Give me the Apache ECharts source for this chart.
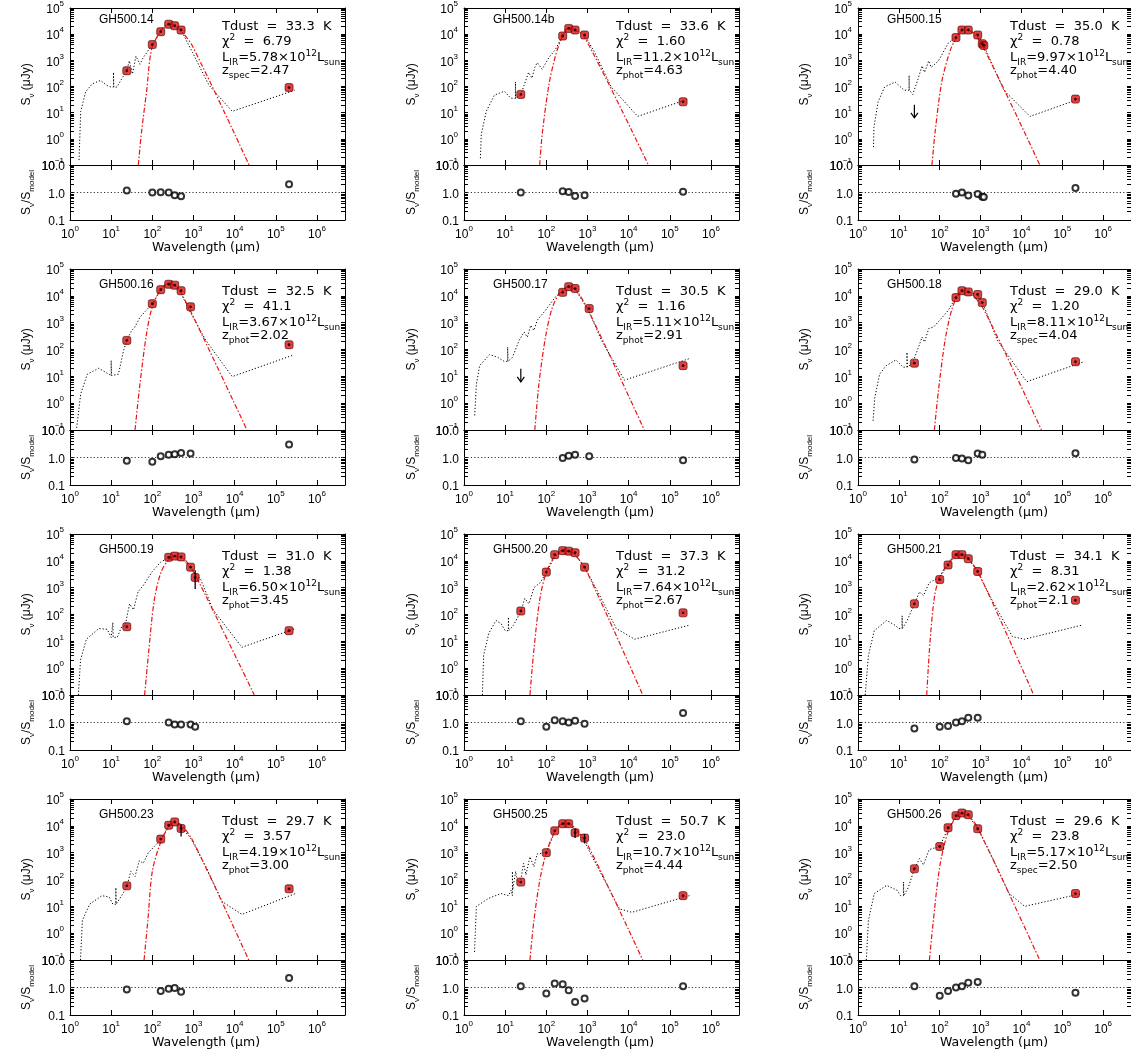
<!DOCTYPE html>
<html><head><meta charset="utf-8">
<script src="https://cdn.jsdelivr.net/npm/echarts/dist/echarts.min.js"></script>
<style>html,body{margin:0;padding:0;background:#fff}#c{width:1131px;height:1057px}</style>
</head><body><div id="c"></div>
<script>
// ---------------- DATA ----------------
const names  = ['GH500.14','GH500.14b','GH500.15','GH500.16','GH500.17','GH500.18','GH500.19','GH500.20','GH500.21','GH500.23','GH500.25','GH500.26'];
const tdust  = ['33.3','33.6','35.0','32.5','30.5','29.0','31.0','37.3','34.1','29.7','50.7','29.6'];
const chi2   = ['6.79','1.60','0.78','41.1','1.16','1.20','1.38','31.2','8.31','3.57','23.0','23.8'];
const lir    = ['5.78','11.2','9.97','3.67','5.11','8.11','6.50','7.64','2.62','4.19','10.7','5.17'];
const ztype  = ['spec','phot','phot','phot','phot','spec','phot','phot','phot','phot','phot','spec'];
const zval   = ['2.47','4.63','4.40','2.02','2.91','4.04','3.45','2.67','2.1','3.00','4.44','2.50'];

const xTicks = [1,10,100,1e3,1e4,1e5,1e6];
const yMajor = [0.1,1,10,100,1e3,1e4,1e5];
const rMajor = [0.1,1,10];

// GH500.14
const wave14 = [24,100,160,250,350,500,2.1e5];
const flux14 = [400,4000,12400,24000,21000,14400,91];
const ratio14 = [1.17,1.0,1.02,0.99,0.79,0.73,1.98];
const sed14 = [[1.66,0.155],[1.82,11.2],[2.4,63],[3.47,126],[5.5,170],[7.9,110],[10,95],[11.4,95],[11.4,347],[11.6,95],[13.8,95],[18,195],[24,400],[27.5,955],[33,302],[40,1445],[50,708],[60,1260],[100,4000],[160,12600],[250,25000],[350,22400],[500,14400],[955,1950],[2399,110],[8710,11.2],[288000,72]];
const bb14 = [[45.7,0.1],[55,2],[72.4,63],[95.5,2570],[151,11500],[240,24000],[330,22400],[479,14400],[955,3400],[22387,0.1]];
// GH500.14b
const wave14b = [24,250,350,500,850,2.1e5];
const flux14b = [50,8500,16600,14400,9300,26];
const ratio14b = [1.0,1.1,1.05,0.75,0.8,1.07];
const sed14b = [[2.5,0.18],[2.63,1.5],[3.47,11.2],[5.5,47],[9.5,66],[13.8,35.5],[17.8,35],[17.8,148],[18,37],[20,40],[24,50],[28.8,110],[37,347],[44.7,209],[52.5,537],[60,813],[79.4,457],[115,1260],[166,2570],[251,9000],[347,17800],[501,15500],[851,9300],[1514,1950],[3802,95],[16596,7.2],[263000,32]];
const bb14b = [[69,0.1],[79.4,1.5],[115,110],[166,1445],[234,6900],[324,16600],[468,14400],[813,8700],[30200,0.1]];
// GH500.15
const wave15 = [250,350,500,850,1100,1200,2.1e5];
const flux15 = [7400,14400,14400,9300,4300,3700,33];
const ratio15 = [0.9,1.0,0.78,0.88,0.7,0.68,1.45];
const ul15 = [[24,20]];
const sed15 = [[2.4,0.48],[2.45,2.7],[3.1,26],[4.47,95],[8.1,148],[13.5,72],[17.8,72],[17.8,263],[18,72],[21.9,50],[29.5,195],[37,617],[42.7,347],[53.7,955],[61.7,537],[93,955],[162,4570],[251,7900],[372,15000],[537,14400],[851,9300],[1230,3400],[3715,72],[16218,7.2],[282000,35]];
const bb15 = [[64.6,0.1],[77.6,2],[112,148],[178,2240],[251,6900],[372,14400],[537,13500],[1047,4300],[28184,0.1]];
// GH500.16
const wave16 = [24,100,160,250,350,500,850,2.1e5];
const flux16 = [218,5100,17000,27000,25000,15500,3900,150];
const ratio16 = [0.76,0.70,1.12,1.25,1.3,1.47,1.4,3.0];
const sed16 = [[1.45,0.12],[1.82,2.2],[2.63,12],[5,20],[10,10.7],[10,39],[10.2,10.7],[15,12],[20,91],[24,220],[31.6,513],[38,690],[50,1600],[100,5100],[160,17000],[240,28800],[347,26000],[479,14000],[794,2880],[1995,219],[8710,9.8],[275000,63]];
const bb16 = [[38,0.1],[50,5.1],[72.4,390],[100,3900],[160,17000],[240,28800],[347,25000],[479,14000],[1000,1620],[19953,0.1]];
// GH500.17
const wave17 = [250,350,500,1100,2.1e5];
const flux17 = [13500,22000,18700,3350,25];
const ratio17 = [0.95,1.15,1.25,1.1,0.8];
const ul17 = [[24,19]];
const sed17 = [[1.82,0.35],[2.0,5.1],[2.4,25],[4.2,65],[6.6,51],[9.5,36],[11.5,36],[11.5,123],[11.7,36],[15,51],[21.9,219],[28.8,447],[34.7,290],[41.7,794],[50,513],[60,1230],[95.5,2880],[166,9100],[234,14000],[347,23000],[501,17800],[1047,2880],[2188,219],[7943,7.2],[288000,45]];
const bb17 = [[52.5,0.1],[66,5.1],[95.5,290],[138,3400],[219,14000],[347,21900],[501,18000],[1047,2880],[24000,0.1]];
// GH500.18
const wave18 = [24,250,350,500,850,1100,2.1e5];
const flux18 = [31,8600,15500,14000,11200,5600,35];
const ratio18 = [0.85,0.95,0.92,0.8,1.4,1.25,1.43];
const sed18 = [[2.34,0.22],[2.57,1.6],[3.4,12.3],[4.9,25],[8.5,41],[12.6,22],[15.8,22],[15.8,79],[16.2,22],[21.4,31],[28.2,91],[37,288],[42.7,190],[53.7,600],[70.8,690],[100,1230],[162,2880],[251,9100],[347,16600],[501,14000],[851,11000],[1230,3900],[2570,219],[13490,6.3],[339000,35]];
const bb18 = [[74,0.1],[93,2.9],[135,219],[195,2880],[282,10700],[407,14100],[589,12300],[1230,2880],[30903,0.1]];
// GH500.19
const wave19 = [24,250,350,500,850,1100,2.1e5];
const flux19 = [35,13500,15000,14000,5800,2400,25];
const ratio19 = [1.1,1.0,0.85,0.85,0.85,0.7,null];
const err19 = [[1100,900,4500]];
const sed19 = [[1.6,0.1],[1.8,2],[2.5,12],[5,30],[8,28],[10,14],[11,14],[11,50],[11.2,14],[14,14],[18,35],[22,40],[28,250],[35,150],[45,700],[60,1200],[100,4000],[160,9000],[250,13000],[350,14500],[500,12500],[850,5500],[1500,2000],[3000,150],[15000,6],[300000,30]];
const bb19 = [[65,0.1],[80,3],[110,300],[160,3500],[250,11000],[400,14500],[600,11500],[1100,3000],[30000,0.1]];
// GH500.20
const wave20 = [24,100,160,250,350,500,850,2.1e5];
const flux20 = [135,3800,17000,24000,23000,20000,5800,115];
const ratio20 = [1.1,0.7,1.2,1.1,1.0,1.15,0.9,2.2];
const sed20 = [[2.8,0.1],[3,3],[4,20],[6,60],[8,45],[10,25],[12,25],[12,80],[12.2,25],[16,40],[24,130],[30,400],[38,250],[50,1000],[70,1500],[100,3700],[160,14000],[250,24000],[350,23000],[500,17000],[850,6000],[2000,500],[5000,30],[14000,12],[300000,40]];
const bb20 = [[40,0.1],[50,5],[70,400],[100,3700],[160,15000],[250,24000],[350,23000],[500,17000],[1000,3500],[22000,0.1]];
// GH500.21
const wave21 = [24,100,160,250,350,500,850,2.1e5];
const flux21 = [250,2000,7000,17000,17000,12000,4000,340];
const ratio21 = [0.6,0.7,0.75,1.0,1.1,1.5,1.5,null];
const sed21 = [[1.5,0.1],[1.8,3],[2.5,25],[5,60],[8,40],[10,30],[12,30],[12,90],[12.2,30],[16,60],[24,250],[32,700],[40,500],[55,1500],[100,2500],[160,7000],[250,16000],[350,17000],[500,12500],[850,3700],[2000,300],[6000,15],[12000,12],[300000,40]];
const bb21 = [[48,0.1],[58,10],[75,500],[100,2500],[160,8000],[250,16000],[350,17000],[500,12500],[1000,2500],[20000,0.1]];
// GH500.23
const wave23 = [24,160,250,350,500,2.1e5];
const flux23 = [58,3200,10500,14000,8000,45];
const ratio23 = [0.85,0.75,0.9,0.95,0.7,2.2];
const err23 = [[500,4000,11000]];
const sed23 = [[1.8,0.1],[2,3],[3,12],[6,25],[9,22],[11,12],[13,12],[13,50],[13.2,12],[18,25],[24,55],[30,200],[38,130],[48,500],[60,400],[80,1000],[160,3000],[250,10000],[350,13000],[500,9000],[850,3500],[2000,300],[5000,15],[15000,5],[300000,30]];
const bb23 = [[63,0.1],[78,3],[100,200],[160,2500],[250,9000],[350,13000],[500,11000],[1000,2500],[22000,0.1]];
// GH500.25
const wave25 = [24,100,160,250,350,500,850,2.1e5];
const flux25 = [80,1000,6500,12000,12000,5500,3500,25];
const ratio25 = [1.1,0.6,1.4,1.3,0.8,0.3,0.4,1.1];
const err25 = [[500,3500,8000],[850,2200,5000]];
const sed25 = [[1.8,0.2],[2,10],[4,20],[8,30],[12,25],[14,40],[15,25],[15,200],[15.2,40],[18,200],[20,80],[24,100],[28,400],[32,150],[40,700],[50,300],[60,900],[100,1000],[160,6000],[250,12000],[350,12000],[500,7000],[850,2500],[2000,200],[6000,8],[12000,6],[300000,25]];
const bb25 = [[40,0.1],[50,3],[70,100],[100,1000],[160,6000],[250,12000],[350,12000],[500,8000],[1000,2000],[22000,0.1]];
// GH500.26
const wave26 = [24,100,160,250,350,500,850,2.1e5];
const flux26 = [250,1700,8500,24000,30000,26000,7800,30];
const ratio26 = [1.1,0.5,0.75,1.0,1.1,1.5,1.6,0.65];
const sed26 = [[1.6,0.1],[1.8,3],[2.5,30],[5,60],[9,40],[11,25],[13,25],[13,80],[13.2,25],[17,50],[24,250],[32,600],[40,350],[55,1300],[100,1700],[160,8000],[250,22000],[350,28000],[500,24000],[850,8000],[2000,600],[5000,30],[12000,10],[300000,30]];
const bb26 = [[56,0.1],[68,2],[100,300],[160,6000],[250,20000],[350,28000],[500,24000],[850,8500],[28000,0.1]];

const waves  = [wave14,wave14b,wave15,wave16,wave17,wave18,wave19,wave20,wave21,wave23,wave25,wave26];
const fluxes = [flux14,flux14b,flux15,flux16,flux17,flux18,flux19,flux20,flux21,flux23,flux25,flux26];
const ratios = [ratio14,ratio14b,ratio15,ratio16,ratio17,ratio18,ratio19,ratio20,ratio21,ratio23,ratio25,ratio26];
const seds   = [sed14,sed14b,sed15,sed16,sed17,sed18,sed19,sed20,sed21,sed23,sed25,sed26];
const bbs    = [bb14,bb14b,bb15,bb16,bb17,bb18,bb19,bb20,bb21,bb23,bb25,bb26];
const uls    = [[],[],ul15,[],ul17,[],[],[],[],[],[],[]];
const errs   = [[],[],[],[],[],[],err19,[],[],err23,err25,[]];

// ---------------- LAYOUT ----------------
const COL_LEFT = [70, 464, 858];
const ROW_TOP = [4, 269, 534, 799];
const YTITLE_X = [27, 412, 805];
const W = 275, HM = 161, HR = 55;
const XMIN = 1, XMAX = 4.8e6;
const F_NUM = '"Liberation Sans", Arial, Helvetica, sans-serif';
const F_TXT = '"DejaVu Sans", "Liberation Sans", sans-serif';

// tick positions (majors + 2..9 minors per decade) for log axes
function withMinors(majors) {
  const out = [];
  majors.forEach((m, k) => { out.push(m); if (k < majors.length - 1) for (let j = 2; j <= 9; j++) out.push(+(m * j).toPrecision(6)); });
  return out;
}
const yTickAll = withMinors(yMajor);
const rTickAll = withMinors(rMajor);

const tickRich = {
  b: {fontFamily: F_NUM, fontSize: 12, color: '#000', lineHeight: 16, verticalAlign: 'bottom'},
  e: {fontFamily: F_NUM, fontSize: 8, color: '#000', lineHeight: 10, verticalAlign: 'top'}
};
function expLabel(v) {
  const lg = Math.log10(v), e = Math.round(lg);
  if (Math.abs(lg - e) > 1e-6) return '';
  return '{b|10}{e|' + (e < 0 ? '\u2212' + (-e) : String(e)) + '}';
}
const txtRich = {
  n: {fontFamily: F_TXT, fontSize: 13, color: '#000', lineHeight: 18},
  p: {fontFamily: F_TXT, fontSize: 9, color: '#000', lineHeight: 11, verticalAlign: 'top'},
  s: {fontFamily: F_TXT, fontSize: 9, color: '#000', lineHeight: 11, verticalAlign: 'bottom'},
  a: {fontFamily: F_NUM, fontSize: 12, color: '#000', lineHeight: 18},
  as: {fontFamily: F_NUM, fontSize: 8, color: '#000', lineHeight: 10, verticalAlign: 'bottom'}
};

function axis(o) {
  return {
    type: 'log', logBase: 10, gridIndex: o.g, position: o.pos, min: o.min, max: o.max,
    axisLine: {show: true, onZero: false, lineStyle: {color: '#000', width: 1}},
    splitLine: {show: false},
    axisTick: {show: true, inside: true, length: o.len || 5, customValues: o.ticks, lineStyle: {color: '#000', width: 1}},
    minorTick: {show: false},
    axisLabel: o.fmt ? {show: true, customValues: o.labels, formatter: o.fmt, margin: o.margin || 6, rich: tickRich,
                        fontFamily: F_NUM, fontSize: 12, color: '#000'}
                     : {show: false}
  };
}

const grids = [], xAxes = [], yAxes = [], series = [], graphics = [];

names.forEach((nm, i) => {
  const c = i % 3, r = Math.floor(i / 3);
  const L = COL_LEFT[c], T = ROW_TOP[r];
  const gm = grids.length;
  grids.push({left: L, top: T, width: W, height: HM, show: false});
  const gr = grids.length;
  grids.push({left: L, top: T + HM, width: W, height: HR, show: false});

  const xm = xAxes.length;
  xAxes.push(axis({g: gm, pos: 'bottom', min: XMIN, max: XMAX, ticks: xTicks}));
  xAxes.push(axis({g: gm, pos: 'top', min: XMIN, max: XMAX, ticks: xTicks}));
  const xr = xAxes.length;
  xAxes.push(axis({g: gr, pos: 'bottom', min: XMIN, max: XMAX, ticks: xTicks, labels: xTicks, fmt: expLabel, margin: 5}));
  xAxes.push(axis({g: gr, pos: 'top', min: XMIN, max: XMAX, ticks: xTicks}));

  const ym = yAxes.length;
  yAxes.push(axis({g: gm, pos: 'left', min: 0.1, max: 1e5, ticks: yTickAll, len: 4, labels: yMajor, fmt: expLabel, margin: 6}));
  yAxes.push(axis({g: gm, pos: 'right', min: 0.1, max: 1e5, ticks: yTickAll, len: 4}));
  const yr = yAxes.length;
  yAxes.push(axis({g: gr, pos: 'left', min: 0.1, max: 10, ticks: rTickAll, len: 4, labels: rMajor,
    fmt: v => '{b|' + v.toFixed(1) + '}', margin: 5}));
  yAxes.push(axis({g: gr, pos: 'right', min: 0.1, max: 10, ticks: rTickAll, len: 4}));

  // model SED (dotted)
  series.push({type: 'line', xAxisIndex: xm, yAxisIndex: ym, data: seds[i], symbol: 'none', silent: true,
    lineStyle: {color: '#000', width: 1, type: [1.2, 2]}, z: 2, clip: true});
  // modified blackbody (red dash-dot)
  series.push({type: 'line', xAxisIndex: xm, yAxisIndex: ym, data: bbs[i], symbol: 'none', silent: true, smooth: 0.3,
    lineStyle: {color: '#ee1111', width: 1.2, type: [5, 2, 1.5, 2]}, z: 3, clip: true});
  // error bars
  if (errs[i].length) {
    series.push({type: 'custom', xAxisIndex: xm, yAxisIndex: ym, data: errs[i], silent: true, z: 7,
      renderItem: (p, api) => {
        const a = api.coord([api.value(0), api.value(1)]), b = api.coord([api.value(0), api.value(2)]);
        return {type: 'line', shape: {x1: a[0], y1: a[1], x2: b[0], y2: b[1]}, style: {stroke: '#000', lineWidth: 1.3}};
      }});
  }
  const pts = waves[i].map((w, k) => [w, fluxes[i][k]]);
  series.push({type: 'scatter', xAxisIndex: xm, yAxisIndex: ym, data: pts, symbol: 'roundRect', symbolSize: 8, silent: true,
    itemStyle: {color: '#dd1111', borderColor: '#440000', borderWidth: 0.8}, z: 5});
  series.push({type: 'scatter', xAxisIndex: xm, yAxisIndex: ym, data: pts, symbol: 'circle', symbolSize: 2.8, silent: true,
    itemStyle: {color: '#000'}, z: 6});
  if (uls[i].length) {
    series.push({type: 'custom', xAxisIndex: xm, yAxisIndex: ym, data: uls[i], silent: true, z: 6,
      renderItem: (p, api) => {
        const a = api.coord([api.value(0), api.value(1)]);
        return {type: 'group', children: [
          {type: 'line', shape: {x1: a[0], y1: a[1], x2: a[0], y2: a[1] + 13}, style: {stroke: '#000', lineWidth: 1.2}},
          {type: 'polyline', shape: {points: [[a[0] - 3.5, a[1] + 8], [a[0], a[1] + 13], [a[0] + 3.5, a[1] + 8]]},
           style: {stroke: '#000', fill: null, lineWidth: 1.2}}
        ]};
      }});
  }
  const rpts = waves[i].map((w, k) => [w, ratios[i][k]]).filter(d => d[1] != null);
  series.push({type: 'scatter', xAxisIndex: xr, yAxisIndex: yr, data: rpts, symbol: 'emptyCircle', symbolSize: 6, silent: true,
    itemStyle: {color: '#000', borderColor: '#000', borderWidth: 1}, z: 5,
    markLine: {silent: true, symbol: 'none', label: {show: false}, animation: false,
      lineStyle: {color: '#333', width: 1, type: [1.2, 2.2]}, data: [{yAxis: 1}]}});

  // texts
  graphics.push({type: 'text', x: L + 29, y: T + 16, z: 100, silent: true,
    style: {text: nm, fontFamily: F_NUM, fontSize: 12, fill: '#000', align: 'left', verticalAlign: 'middle'}});
  const lines = [
    ['{n|Tdust  =  ' + tdust[i] + '  K}', 23],
    ['{n|\u03c7}{p|2}{n|  =  ' + chi2[i] + '}', 38],
    ['{n|L}{s|IR}{n|=' + lir[i] + '\u00d710}{p|12}{n|L}{s|sun}', 54],
    ['{n|z}{s|' + ztype[i] + '}{n|=' + zval[i] + '}', 67]
  ];
  lines.forEach(([t, dy]) => graphics.push({type: 'text', x: L + 152, y: T + dy, z: 100, silent: true,
    style: {text: t, rich: txtRich, align: 'left', verticalAlign: 'middle', fill: '#000'}}));
  graphics.push({type: 'text', x: YTITLE_X[c], y: T + HM / 2, rotation: Math.PI / 2, z: 100, silent: true,
    style: {text: '{a|S}{as|\u03bd}{a| (\u03bcJy)}', rich: txtRich, align: 'center', verticalAlign: 'middle'}});
  graphics.push({type: 'text', x: YTITLE_X[c], y: T + HM + HR / 2, rotation: Math.PI / 2, z: 100, silent: true,
    style: {text: '{a|S}{as|\u03bd}{a|/S}{as|model}', rich: txtRich, align: 'center', verticalAlign: 'middle'}});
  graphics.push({type: 'text', x: L + 136, y: T + HM + HR + 28, z: 100, silent: true,
    style: {text: 'Wavelength (\u03bcm)', fontFamily: F_TXT, fontSize: 12.5, fill: '#000', align: 'center', verticalAlign: 'middle'}});
});

const chart = echarts.init(document.getElementById('c'), null, {renderer: 'canvas'});
chart.setOption({animation: false, backgroundColor: '#fff', grid: grids, xAxis: xAxes, yAxis: yAxes, series: series, graphic: graphics});
</script>
</body></html>
